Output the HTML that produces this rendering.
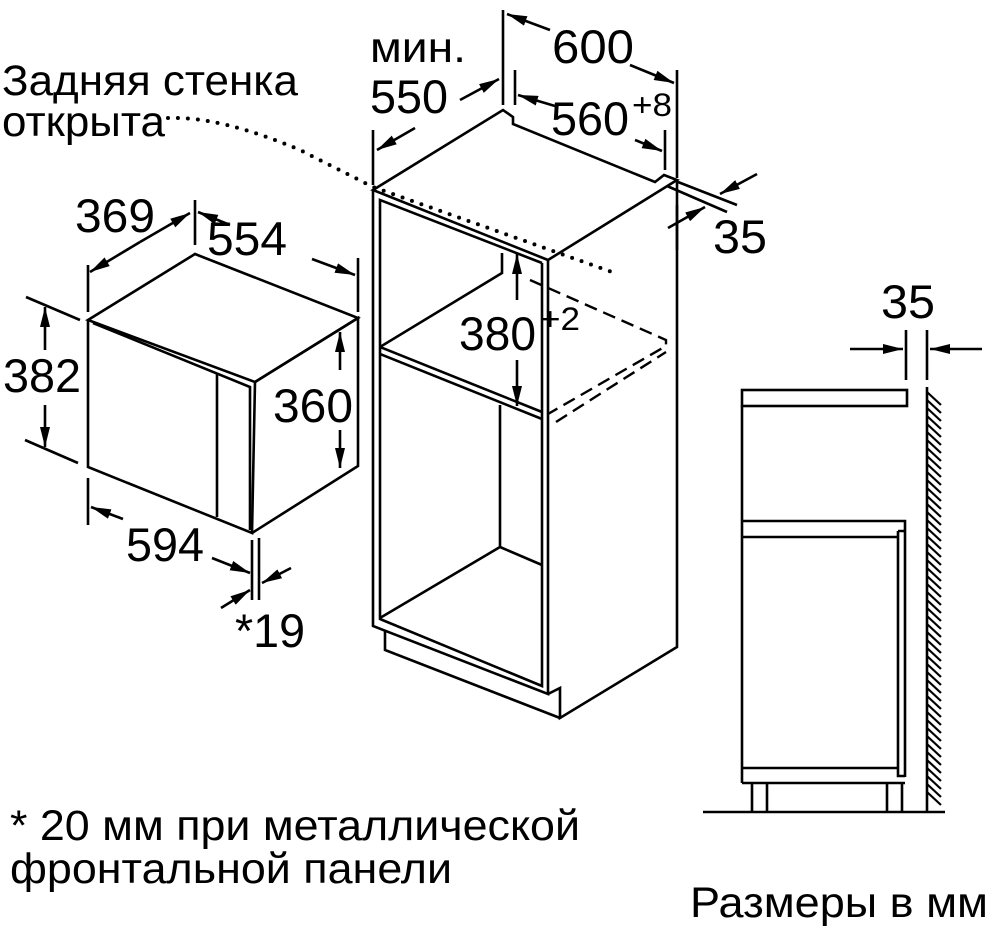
<!DOCTYPE html>
<html><head><meta charset="utf-8"><style>
html,body{margin:0;padding:0;background:#fff;}
svg{display:block;}
text{font-family:"Liberation Sans",sans-serif;fill:#000;}
</style></head><body>
<svg width="992" height="928" viewBox="0 0 992 928" xmlns="http://www.w3.org/2000/svg">
<defs>
<marker id="a" viewBox="0 0 20 10" refX="20" refY="5" markerWidth="20" markerHeight="10" markerUnits="userSpaceOnUse" orient="auto">
<path d="M0,0 L20,5 L0,10 Z" fill="#000"/>
</marker>
</defs>
<g fill="none" stroke="#000" stroke-width="2.6" stroke-linejoin="miter">
<path d="M373,190 L503,110 L513,117 L513,124 L655,182 L664,175 L677,180 L548,260 Z"/>
<path d="M373,190 L373,626 L548,694 L548,260"/>
<path d="M542,263 L542,686 L380,619 L380,200 L542,263"/>
<path d="M677,180 L677,647 L560,718 L560,688 L548,694"/>
<path d="M385,631 L385,650 L560,718"/>
<path d="M380,347 L542,412"/>
<path d="M380,354 L542,419"/>
<path d="M380,347 L502,273 L502,253"/>
<path d="M500,405 L500,547 L380,618"/>
<path d="M500,547 L542,565"/>
<path d="M530,280 L666,340 L666,346 L548,414" stroke-dasharray="13,7" stroke-width="2.4"/>
<path d="M556,422 L666,352" stroke-dasharray="13,7" stroke-width="2.4"/>
<path d="M168,118 Q220,116 300,150 L373,187 L612,272" stroke-dasharray="0,10" stroke-linecap="round" stroke-width="4"/>

<path d="M373,130 L373,185"/>
<path d="M503,10 L503,105"/>
<path d="M515,70 L515,105"/>
<path d="M677,70 L677,178"/>
<path d="M665,130 L665,170"/>
<path d="M677,205 L677,250"/>
<path d="M415,128 L377,150" marker-end="url(#a)"/>
<path d="M460,100 L499,79" marker-end="url(#a)"/>
<path d="M550,30 L507,14" marker-end="url(#a)"/>
<path d="M630,65 L674,83" marker-end="url(#a)"/>
<path d="M555,106 L518,95" marker-end="url(#a)"/>
<path d="M635,140 L662,151" marker-end="url(#a)"/>
<path d="M678,182 L737,205"/>
<path d="M667,186 L727,212"/>
<path d="M757,174 L720,194" marker-end="url(#a)"/>
<path d="M668,228 L705,207" marker-end="url(#a)"/>
<path d="M517,300 L517,254" marker-end="url(#a)"/>
<path d="M517,360 L517,406" marker-end="url(#a)"/>

<path d="M88,320 L195,254 L358,318 L255,382 Z"/>
<path d="M88,320 L88,467 L252,533 L255,382"/>
<path d="M255,382 L358,318 L358,466 L252,533"/>
<path d="M93,323 L250,387 L250,530"/>
<path d="M217,373 L217,517"/>
<path d="M88,265 L88,312"/>
<path d="M195,200 L195,245"/>
<path d="M358,258 L358,312"/>
<path d="M140,242 L90,272" marker-end="url(#a)"/>
<path d="M140,242 L190,213" marker-end="url(#a)"/>
<path d="M230,225 L198,212" marker-end="url(#a)"/>
<path d="M312,259 L355,275" marker-end="url(#a)"/>
<path d="M26,297 L80,320"/>
<path d="M25,440 L78,463"/>
<path d="M45,350 L45,307" marker-end="url(#a)"/>
<path d="M45,405 L45,447" marker-end="url(#a)"/>
<path d="M340,370 L340,332" marker-end="url(#a)"/>
<path d="M340,430 L340,468" marker-end="url(#a)"/>
<path d="M88,478 L88,525"/>
<path d="M252,540 L252,600"/>
<path d="M259,538 L259,600"/>
<path d="M123,519 L91,507" marker-end="url(#a)"/>
<path d="M212,558 L250,573" marker-end="url(#a)"/>
<path d="M291,568 L262,583" marker-end="url(#a)"/>
<path d="M221,608 L250,590" marker-end="url(#a)"/>

<rect x="742" y="390" width="165" height="16"/>
<path d="M742,406 L742,783"/>
<path d="M742,521 L905,521 L905,777"/>
<path d="M742,537 L898,537"/>
<path d="M898,531 L905,531 M898,531 L898,776 L905,776"/>
<path d="M742,768 L898,768"/>
<path d="M742,783 L905,783"/>
<path d="M752,783 L752,812 M767,783 L767,812 M887,783 L887,812 M902,783 L902,812"/>
<path d="M703,812 L945,812"/>
<path d="M927,387 L927,812"/>
<path d="M906,330 L906,380 M927,330 L927,380"/>
<path d="M850,349 L903,349" marker-end="url(#a)"/>
<path d="M982,349 L930,349" marker-end="url(#a)"/>
</g>
<g stroke="#000" stroke-width="2.2">
<path d="M927,392 L941,405 M927,400 L941,413 M927,408 L941,421 M927,416 L941,429 M927,424 L941,437 M927,432 L941,445 M927,440 L941,453 M927,448 L941,461 M927,456 L941,469 M927,464 L941,477 M927,472 L941,485 M927,480 L941,493 M927,488 L941,501 M927,496 L941,509 M927,504 L941,517 M927,512 L941,525 M927,520 L941,533 M927,528 L941,541 M927,536 L941,549 M927,544 L941,557 M927,552 L941,565 M927,560 L941,573 M927,568 L941,581 M927,576 L941,589 M927,584 L941,597 M927,592 L941,605 M927,600 L941,613 M927,608 L941,621 M927,616 L941,629 M927,624 L941,637 M927,632 L941,645 M927,640 L941,653 M927,648 L941,661 M927,656 L941,669 M927,664 L941,677 M927,672 L941,685 M927,680 L941,693 M927,688 L941,701 M927,696 L941,709 M927,704 L941,717 M927,712 L941,725 M927,720 L941,733 M927,728 L941,741 M927,736 L941,749 M927,744 L941,757 M927,752 L941,765 M927,760 L941,773 M927,768 L941,781 M927,776 L941,789 M927,784 L941,797 M927,792 L941,805"/>
</g>
<g font-size="43">
<text x="2" y="95" textLength="296" lengthAdjust="spacingAndGlyphs">Задняя стенка</text>
<text x="2" y="136" textLength="163" lengthAdjust="spacingAndGlyphs">открыта</text>
<text x="370" y="62" textLength="96" lengthAdjust="spacingAndGlyphs">мин.</text>
<text x="690" y="917" textLength="298" lengthAdjust="spacingAndGlyphs">Размеры в мм</text>
<text x="10" y="840" textLength="570" lengthAdjust="spacingAndGlyphs">* 20 мм при металлической</text>
<text x="10" y="883" textLength="442" lengthAdjust="spacingAndGlyphs">фронтальной панели</text>
</g>
<g font-size="47">
<text x="370" y="113" textLength="78" lengthAdjust="spacingAndGlyphs">550</text>
<text x="552" y="63" textLength="82" lengthAdjust="spacingAndGlyphs">600</text>
<text x="551" y="135" textLength="78" lengthAdjust="spacingAndGlyphs">560</text>
<text x="713" y="253" textLength="54" lengthAdjust="spacingAndGlyphs">35</text>
<text x="459" y="350" textLength="77" lengthAdjust="spacingAndGlyphs">380</text>
<text x="75" y="232" textLength="80" lengthAdjust="spacingAndGlyphs">369</text>
<text x="207" y="255" textLength="80" lengthAdjust="spacingAndGlyphs">554</text>
<text x="3" y="392" textLength="78" lengthAdjust="spacingAndGlyphs">382</text>
<text x="273" y="422" textLength="80" lengthAdjust="spacingAndGlyphs">360</text>
<text x="126" y="561" textLength="78" lengthAdjust="spacingAndGlyphs">594</text>
<text x="235" y="647" textLength="70" lengthAdjust="spacingAndGlyphs">*19</text>
<text x="881" y="318" textLength="54" lengthAdjust="spacingAndGlyphs">35</text>
</g>
<g font-size="32">
<text x="632" y="116" textLength="40" lengthAdjust="spacingAndGlyphs">+8</text>
<text x="540" y="330" textLength="40" lengthAdjust="spacingAndGlyphs">+2</text>
</g>
</svg>
</body></html>
